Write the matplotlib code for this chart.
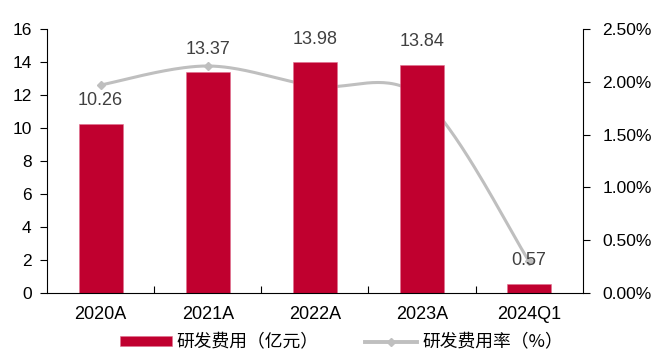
import numpy as np
import matplotlib.pyplot as plt
from matplotlib.ticker import FuncFormatter

plt.rcParams['font.family'] = ['Liberation Sans', 'Noto Sans CJK SC', 'DejaVu Sans']

categories = ["2020A", "2021A", "2022A", "2023A", "2024Q1"]
rd_expense = [10.26, 13.37, 13.98, 13.84, 0.57]    # 亿元
rd_ratio = [1.97, 2.15, 1.96, 1.85, 0.30]          # %

bar_color = "#C0002F"
line_color = "#BFBFBF"


def smooth(xs, ys, n=40):
    # Bezier segments with Catmull-Rom style control points
    pts = np.column_stack([xs, ys]).astype(float)
    ext = np.vstack([pts[0], pts, pts[-1]])
    out = []
    t = np.linspace(0, 1, n)[:, None]
    for i in range(len(pts) - 1):
        p0, p3 = ext[i + 1], ext[i + 2]
        p1 = p0 + (ext[i + 2] - ext[i]) / 6
        p2 = p3 - (ext[i + 3] - ext[i + 1]) / 6
        seg = ((1 - t) ** 3) * p0 + 3 * ((1 - t) ** 2) * t * p1 + 3 * (1 - t) * t ** 2 * p2 + t ** 3 * p3
        out.append(seg if i == 0 else seg[1:])
    out = np.vstack(out)
    return out[:, 0], out[:, 1]


x = np.arange(len(categories))

fig = plt.figure(figsize=(6.57, 3.54), dpi=100)
ax = fig.add_axes([0.0715, 0.172, 0.8155, 0.746])
ax2 = ax.twinx()

bars = ax.bar(x, rd_expense, width=0.41, color=bar_color, edgecolor="#E07090", linewidth=0.4,
              label="研发费用（亿元）", zorder=2)
for xi, v in zip(x, rd_expense):
    ax.annotate(f"{v:.2f}", (xi, v), xytext=(0, 16.5), textcoords="offset points",
                ha="center", va="center", fontsize=13, color="#404040", zorder=5)

sx, sy = smooth(x, rd_ratio)
ax2.plot(sx, sy, color=line_color, linewidth=2.2, zorder=3, solid_capstyle="round")
ax2.plot(x, rd_ratio, linestyle="none", marker="D", markersize=4.5, color=line_color, zorder=3)

ax.set_xlim(-0.5, len(categories) - 0.5)
ax.set_ylim(0, 16)
ax.set_yticks(range(0, 17, 2))
ax2.set_ylim(0, 2.5)
ax2.set_yticks(np.arange(0, 2.51, 0.5))
ax2.yaxis.set_major_formatter(FuncFormatter(lambda v, p: f"{v:.2f}%"))

ax.set_xticks(x)
ax.set_xticklabels(categories)
ax.set_xticks(np.arange(0.5, len(categories) - 1, 1), minor=True)
ax.tick_params(axis="x", which="major", length=0, pad=9, labelsize=13)
ax.tick_params(axis="x", which="minor", length=5, direction="in", width=0.8)
ax.tick_params(axis="y", length=5, direction="out", width=0.8, labelsize=12.5, pad=6)
ax2.tick_params(axis="y", length=5, direction="out", width=0.8, labelsize=12.5, pad=9)

for a in (ax, ax2):
    a.spines["top"].set_visible(False)
    for s in ("left", "right", "bottom"):
        a.spines[s].set_linewidth(0.8)
ax.spines["right"].set_visible(False)
ax2.spines["left"].set_visible(False)
ax2.spines["bottom"].set_visible(False)

ax.set_zorder(ax2.get_zorder() + 1)
ax.patch.set_visible(False)

line_handle = plt.Line2D([], [], color=line_color, linewidth=2.8, marker="D", markersize=4.5)
fig.legend([bars, line_handle], ["研发费用（亿元）", "研发费用率（%）"],
           loc="center left", bbox_to_anchor=(120 / 657, 1 - 342.5 / 354), ncol=2, frameon=False,
           prop={"family": ["Noto Sans CJK SC"], "size": 12.8}, borderpad=0, borderaxespad=0,
           handlelength=2.9, handleheight=0.5, columnspacing=2.6, handletextpad=0.3)

fig.savefig("out.png", dpi=100)
